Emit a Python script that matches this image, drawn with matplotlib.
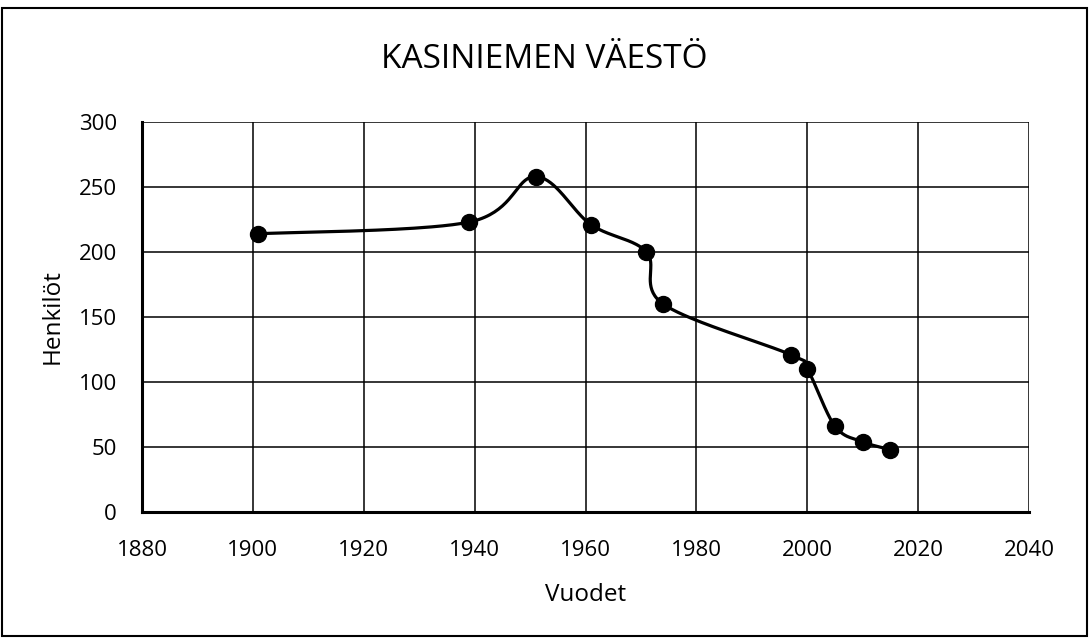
import numpy as np
import matplotlib
matplotlib.use("Agg")
import matplotlib.pyplot as plt
from matplotlib.patches import Rectangle

years = [1901, 1939, 1951, 1961, 1971, 1974, 1997, 2000, 2005, 2010, 2015]
people = [214, 223, 258, 221, 200, 160, 121, 110, 66, 54, 48]
x_ticks = [1880, 1900, 1920, 1940, 1960, 1980, 2000, 2020, 2040]
y_ticks = [0, 50, 100, 150, 200, 250, 300]

plt.rcParams['font.family'] = ['Open Sans', 'DejaVu Sans']


def smooth_line(xs, ys, steps=40):
    # Catmull-Rom style bezier, roughly what Excel does for "smoothed line"
    xs = np.asarray(xs, float)
    ys = np.asarray(ys, float)
    n = len(xs)
    out_x, out_y = [], []
    for i in range(n - 1):
        p0 = np.array([xs[max(i - 1, 0)], ys[max(i - 1, 0)]])
        p1 = np.array([xs[i], ys[i]])
        p2 = np.array([xs[i + 1], ys[i + 1]])
        p3 = np.array([xs[min(i + 2, n - 1)], ys[min(i + 2, n - 1)]])
        c1 = p1 + (p2 - p0) / 6
        c2 = p2 - (p3 - p1) / 6
        t = np.linspace(0, 1, steps)[:, None]
        pts = ((1 - t) ** 3) * p1 + 3 * ((1 - t) ** 2) * t * c1 + 3 * (1 - t) * t ** 2 * c2 + t ** 3 * p2
        out_x.extend(pts[:, 0])
        out_y.extend(pts[:, 1])
    return out_x, out_y


fig = plt.figure(figsize=(10.89, 6.42), dpi=100)
fig.patches.append(Rectangle((0.0018, 0.0093), 0.9963, 0.978, transform=fig.transFigure,
                             fill=False, edgecolor='black', linewidth=1.5))

ax = fig.add_axes([0.1304, 0.2025, 0.8145, 0.6075])
sx, sy = smooth_line(years, people)
ax.plot(sx, sy, color='black', linewidth=2.3, zorder=3)
ax.plot(years, people, linestyle='none', marker='o', markersize=11.5, color='black', zorder=4)

ax.set_xlim(1880, 2040)
ax.set_ylim(0, 300)
ax.set_xticks(x_ticks)
ax.set_yticks(y_ticks)
ax.grid(True, color='black', linewidth=1.1)
ax.set_axisbelow(True)
for s in ['top', 'right']:
    ax.spines[s].set_visible(False)
for s in ['left', 'bottom']:
    ax.spines[s].set_linewidth(2.2)
ax.tick_params(length=0, labelsize=16)
ax.tick_params(axis='x', pad=20)
ax.tick_params(axis='y', pad=18)

ax.set_xlabel('Vuodet', fontsize=17.5)
ax.xaxis.set_label_coords(0.5, -0.228)
ax.xaxis.label.set_verticalalignment('baseline')
ax.set_ylabel('Henkilöt', fontsize=17.5)
ax.yaxis.set_label_coords(-0.087, 0.5)
fig.text(0.5, 0.894, 'KASINIEMEN VÄESTÖ', ha='center', va='baseline', fontsize=24)

fig.savefig('out.png', dpi=100)
